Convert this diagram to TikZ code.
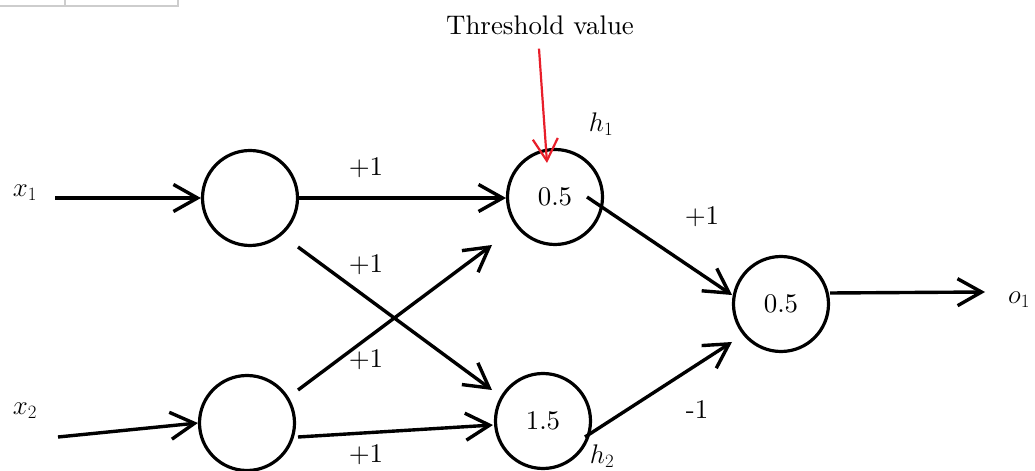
\RequirePackage{fix-cm}
\documentclass[tikz,border=0pt]{standalone}
\usepackage{fontspec}
\setmainfont{lmroman10-regular.otf}
\usetikzlibrary{arrows.meta,calc}
\definecolor{thrred}{RGB}{232,30,42}
\definecolor{tblgray}{RGB}{205,205,205}
\begin{document}
\begin{tikzpicture}[x=1bp,y=-1bp,
  neuron/.style={circle,draw,line width=3.2bp,minimum size=95bp,inner sep=0pt,font=\fontsize{27}{33}\selectfont},
  conn/.style={line width=3.4bp,-{Straight Barb[length=24bp,width=27bp]}},
  redarr/.style={draw=thrred,line width=2.2bp,-{Straight Barb[length=22bp,width=25bp]}},
  lbl/.style={font=\fontsize{27}{33}\selectfont,inner sep=0pt},
  tbl/.style={draw=tblgray,line width=1.5bp}]
\useasboundingbox (0,0) rectangle (1035,471);
% table fragment at the top left
\draw[tbl] (0,6) -- (178,6) -- (178,0);
\draw[tbl] (65,0) -- (65,6);
% neurons
\node[neuron] (i1) at (250,198) {};
\node[neuron] (i2) at (247,423) {};
\node[neuron] (h1) at (555,197) {0.5};
\node[neuron] (h2) at (543,421) {1.5};
\node[neuron] (o) at (781,304) {0.5};
% outer labels
\node[lbl] (x1) at (25,193) {$x_1$};
\node[lbl] (x2) at (25,411) {$x_2$};
\node[lbl] (o1) at (1019,300) {$o_1$};
\node[lbl] (h1l) at (601,124) {$h_1$};
\node[lbl] (h2l) at (602,456) {$h_2$};
\node[lbl] (thr) at (540,25) {Threshold value};
% weights
\node[lbl] (w1) at (366,168) {+1};
\node[lbl] (w2) at (366,265) {+1};
\node[lbl] (w3) at (366,360) {+1};
\node[lbl] (w4) at (366,455) {+1};
\node[lbl] (w5) at (702,217) {+1};
\node[lbl] (w6) at (697,410) {-1};
% free ends
\coordinate (x1s) at (55,198);
\coordinate (x2s) at (58,437);
\coordinate (o1e) at (985,292);
% connectors
\draw[conn] (x1s) -- (i1.west);
\draw[conn] (x2s) -- (i2.west);
\draw[conn] (i1.east) -- ($(h1)+(-49,1)$);
\draw[conn] ($(i1)+(48,49)$) -- ($(h2)+(-51,-31)$);
\draw[conn] ($(i2)+(51,-33)$) -- ($(h1)+(-63,48)$);
\draw[conn] ($(i2)+(51,14)$) -- ($(h2)+(-50,4)$);
\draw[conn] ($(h1)+(32,0)$) -- ($(o)+(-49,-9)$);
\draw[conn] ($(h2)+(42,16)$) -- ($(o)+(-49,38)$);
\draw[conn] ($(o)+(49,-11)$) -- (o1e);
\draw[redarr] ($(thr.south)+(-1,14)$) -- ($(h1)+(-8,-34)$);
\end{tikzpicture}
\end{document}
